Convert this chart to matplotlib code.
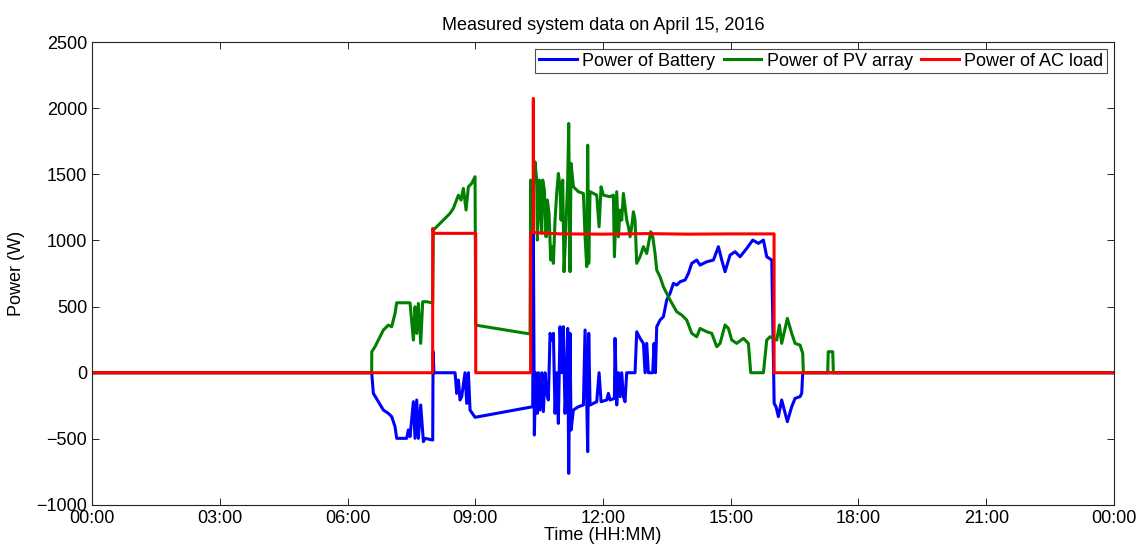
import matplotlib
matplotlib.use("Agg")
import matplotlib.pyplot as plt
import numpy as np

plt.rcParams['font.family'] = ['Liberation Sans', 'DejaVu Sans']

# time in hours, power in W
batt_t = [0.0, 6.568, 6.607, 6.842, 6.959, 7.038, 7.116, 7.155, 7.390, 7.429, 7.468,
          7.547, 7.586, 7.625, 7.664, 7.719, 7.782, 7.821, 8.001, 8.01, 8.03, 8.526,
          8.565, 8.604, 8.643, 8.682, 8.760, 8.800, 8.839, 8.878, 8.995, 10.350,
          10.365, 10.388, 10.420, 10.459, 10.482, 10.522, 10.561, 10.600, 10.639,
          10.678, 10.717, 10.757, 10.796, 10.835, 10.874, 10.913, 10.952, 10.991,
          11.031, 11.070, 11.109, 11.148, 11.171, 11.195, 11.226, 11.250, 11.305,
          11.422, 11.540, 11.579, 11.618, 11.641, 11.665, 11.696, 11.853, 11.908,
          11.955, 12.088, 12.127, 12.166, 12.268, 12.283, 12.323, 12.362, 12.401,
          12.440, 12.479, 12.518, 12.557, 12.753, 12.792, 12.871, 12.949, 12.988,
          13.027, 13.066, 13.168, 13.199, 13.231, 13.262, 13.340, 13.419, 13.497,
          13.575, 13.654, 13.732, 13.810, 13.928, 14.006, 14.084, 14.202, 14.280,
          14.437, 14.593, 14.711, 14.789, 14.867, 14.985, 15.102, 15.220, 15.376,
          15.517, 15.650, 15.768, 15.846, 15.964, 16.01, 16.02, 16.064, 16.119,
          16.197, 16.330, 16.432, 16.511, 16.628, 16.667, 16.691, 24.0]
batt_p = [0, 0, -156, -282, -307, -332, -408, -496, -496, -433, -483,
          -219, -496, -206, -496, -244, -521, -496, -509, 159, 0, 0,
          -156, -55, -206, -181, 0, -232, 0, -282, -337, -257,
          1054, -471, 0, -307, 0, -282, 0, -294, 0,
          -156, -206, 298, 247, 298, -307, 0, -383, 348,
          0, 348, -307, 0, 335, -761, 298, -433, -282,
          -257, -244, 323, -206, -597, 298, -244, -219, 0,
          -219, -206, -156, -206, -194, 260, -244, 0, -181,
          0, -181, -219, 0, 0, 310, 260, 222, 0,
          222, 0, 0, 222, 0, 348, 398, 424, 550,
          600, 676, 663, 688, 701, 751, 827, 852, 814,
          839, 852, 953, 852, 764, 890, 915, 877, 940,
          1003, 978, 1003, 877, 852, 0, -232, -257, -332,
          -206, -370, -257, -194, -181, -156, 0, 0]

pv_t = [0.0, 6.568, 6.57, 6.646, 6.842, 6.959, 7.038, 7.116, 7.155, 7.468, 7.547,
        7.586, 7.625, 7.664, 7.719, 7.766, 7.860, 7.977, 8.00, 8.017, 8.095, 8.251,
        8.408, 8.486, 8.604, 8.666, 8.721, 8.784, 8.839, 8.917, 8.995, 9.011,
        10.287, 10.302, 10.326, 10.365, 10.404, 10.443, 10.459, 10.506, 10.561,
        10.584, 10.623, 10.663, 10.694, 10.733, 10.772, 10.796, 10.835, 10.874,
        10.913, 10.952, 10.991, 11.015, 11.054, 11.085, 11.124, 11.171, 11.195,
        11.226, 11.250, 11.305, 11.422, 11.540, 11.579, 11.618, 11.641, 11.665,
        11.696, 11.853, 11.908, 11.955, 12.009, 12.166, 12.244, 12.268, 12.323,
        12.362, 12.401, 12.440, 12.479, 12.518, 12.557, 12.597, 12.636, 12.675,
        12.714, 12.753, 12.792, 12.871, 12.949, 13.027, 13.121, 13.168, 13.223,
        13.262, 13.340, 13.419, 13.575, 13.732, 13.850, 13.967, 14.084, 14.202,
        14.280, 14.437, 14.554, 14.672, 14.750, 14.867, 14.946, 15.024, 15.141,
        15.298, 15.415, 15.470, 15.768, 15.846, 15.924, 16.002, 16.080, 16.143,
        16.197, 16.330, 16.432, 16.511, 16.628, 16.691, 16.706, 17.278, 17.29,
        17.395, 17.411, 24.0]
pv_p = [0, 0, 159, 197, 323, 360, 348, 449, 529, 529, 247,
        499, 298, 524, 222, 537, 537, 529, 529, 1079, 1104, 1154,
        1205, 1243, 1343, 1306, 1394, 1230, 1406, 1432, 1482, 360,
        293, 1457, 1104, 1406, 1595, 1457, 1003, 1457, 1054,
        1457, 1381, 1028, 1306, 1205, 852, 953, 827, 1154,
        1356, 1507, 1406, 1154, 1457, 764, 1054, 1457, 1885,
        764, 1583, 1406, 1369, 1356, 1028, 802, 1721, 827,
        1369, 1343, 1104, 1406, 1343, 1331, 1343, 877, 1369,
        1028, 1230, 1154, 1356, 1255, 1154, 1104, 1028, 1104,
        1217, 1154, 827, 877, 953, 902, 1066, 1028, 902,
        776, 726, 650, 550, 461, 436, 398, 298, 272,
        335, 310, 298, 197, 222, 361, 335, 247, 222,
        260, 222, 0, 0, 247, 272, 260, 247, 361,
        222, 411, 298, 222, 209, 146, 0, 0, 159,
        159, 0, 0]

load_t = [0.0, 8.0, 8.001, 8.03, 9.011, 9.012, 10.30, 10.301, 10.36, 10.365, 10.37,
          11.0, 12.0, 13.0, 14.0, 15.0, 16.018, 16.019, 24.0]
load_p = [0, 0, 1091, 1054, 1054, 0, 0, 1060, 1060, 2074, 1060,
          1050, 1048, 1052, 1048, 1050, 1050, 0, 0]

fig = plt.figure(figsize=(11.39, 5.47), dpi=100)
ax = fig.add_axes([0.0808, 0.0768, 0.8972, 0.8462])

ax.plot(batt_t, batt_p, color='#0000FF', lw=2.2, label='Power of Battery')
ax.plot(pv_t, pv_p, color='#008000', lw=2.2, label='Power of PV array')
ax.plot(load_t, load_p, color='#FF0000', lw=2.2, label='Power of AC load')

ax.set_xlim(0, 24)
ax.set_ylim(-1000, 2500)
xt = np.arange(0, 25, 3)
ax.set_xticks(xt)
ax.set_xticklabels(['%02d:00' % (h % 24) for h in xt])
ax.set_yticks(np.arange(-1000, 2501, 500))
ax.tick_params(direction='in', top=True, right=True, labelsize=13, length=5, width=0.6)
for s in ax.spines.values():
    s.set_linewidth(0.8)
    s.set_color('#222222')

ax.set_xlabel('Time (HH:MM)', fontsize=13, labelpad=0)
ax.set_ylabel('Power (W)', fontsize=13, labelpad=8)
ax.set_title('Measured system data on April 15, 2016', fontsize=13, pad=9)

leg = ax.legend(loc='upper right', ncol=3, fontsize=13, frameon=True, fancybox=False,
                handlelength=2.1, handletextpad=0.3, columnspacing=0.45,
                borderpad=0.2, borderaxespad=0.38)
leg.get_frame().set_edgecolor('#222222')
leg.get_frame().set_linewidth(0.8)

fig.savefig('out.png', dpi=100, facecolor='white')
